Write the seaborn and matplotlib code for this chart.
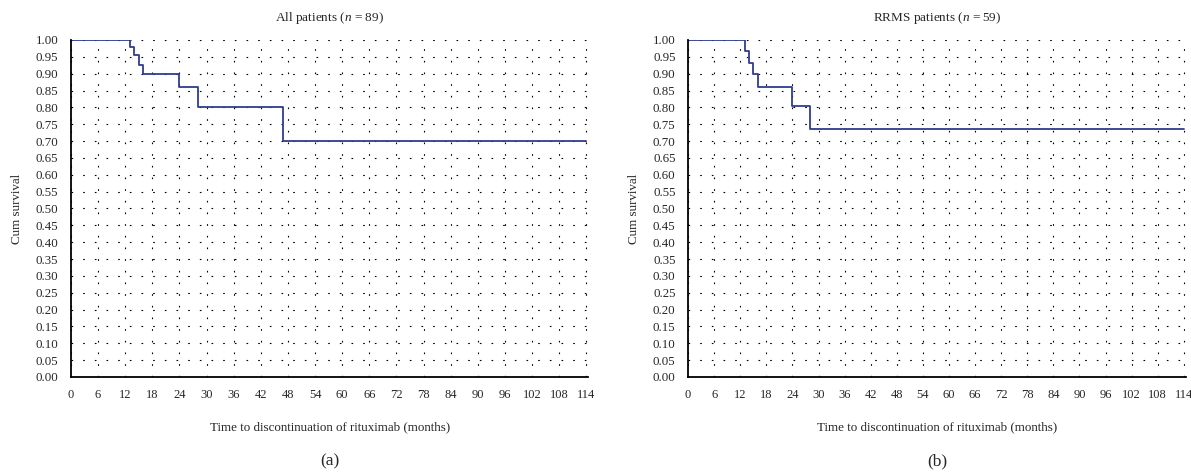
import numpy as np
import pandas as pd
import matplotlib
matplotlib.use('Agg')
import matplotlib.pyplot as plt
import seaborn as sns

# Kaplan-Meier steps
all_time = [0, 13, 14, 15, 16, 24, 28, 47, 114]
all_surv = [1.0, 0.978, 0.955, 0.927, 0.899, 0.86, 0.80, 0.70, 0.70]

rrms_time = [0, 13, 14, 15, 16, 24, 28, 114]
rrms_surv = [1.0, 0.966, 0.932, 0.898, 0.86, 0.803, 0.735, 0.735]

titles = ['All patients ($\\it{n}$ = 89)', 'RRMS patients ($\\it{n}$ = 59)']
panel_labels = ['(a)', '(b)']
x_ticks = list(range(0, 115, 6))
y_ticks = [i / 20 for i in range(21)]

sns.set_style('white')
plt.rcParams['font.family'] = ['Liberation Serif', 'DejaVu Serif']
plt.rcParams['mathtext.fontset'] = 'custom'
plt.rcParams['mathtext.rm'] = 'Liberation Serif'
plt.rcParams['mathtext.it'] = 'Liberation Serif:italic'

fig = plt.figure(figsize=(11.91, 4.72), dpi=100)
ax1 = fig.add_axes([0.0596, 0.2013, 0.4345, 0.714])
ax2 = fig.add_axes([0.5777, 0.2013, 0.4181, 0.714])

curves = [(all_time, all_surv), (rrms_time, rrms_surv)]
for ax, (t, s), title, lab in zip([ax1, ax2], curves, titles, panel_labels):
    df = pd.DataFrame({'time': t, 'surv': s})
    sns.lineplot(data=df, x='time', y='surv', ax=ax, drawstyle='steps-post',
                 color='#2f3d8f', linewidth=1.3)
    ax.set_xlim(0, 114.5)
    ax.set_ylim(0, 1.0)
    ax.set_xticks(x_ticks)
    ax.set_yticks(y_ticks)
    ax.set_yticklabels([f'{v:.2f}' for v in y_ticks])
    ax.grid(True, color='black', linestyle=(0, (1.5, 9)), linewidth=0.8)
    ax.set_axisbelow(True)
    for side in ['top', 'right']:
        ax.spines[side].set_visible(False)
    for side in ['left', 'bottom']:
        ax.spines[side].set_color('black')
        ax.spines[side].set_linewidth(1.3)
    ax.tick_params(axis='x', direction='inout', length=6, width=1, labelsize=9, pad=6)
    ax.tick_params(axis='y', direction='out', length=5, width=1, labelsize=9.3, pad=4)
    ax.set_title(title, fontsize=9.5, pad=14)
    ax.set_xlabel('Time to discontinuation of rituximab (months)', fontsize=9.4, labelpad=14)
    ax.set_ylabel('Cum survival', fontsize=9.4, labelpad=9)
    ax.text(0.5, -0.25, lab, transform=ax.transAxes, ha='center', va='center', fontsize=12.5)

fig.savefig('out.png', dpi=100)
